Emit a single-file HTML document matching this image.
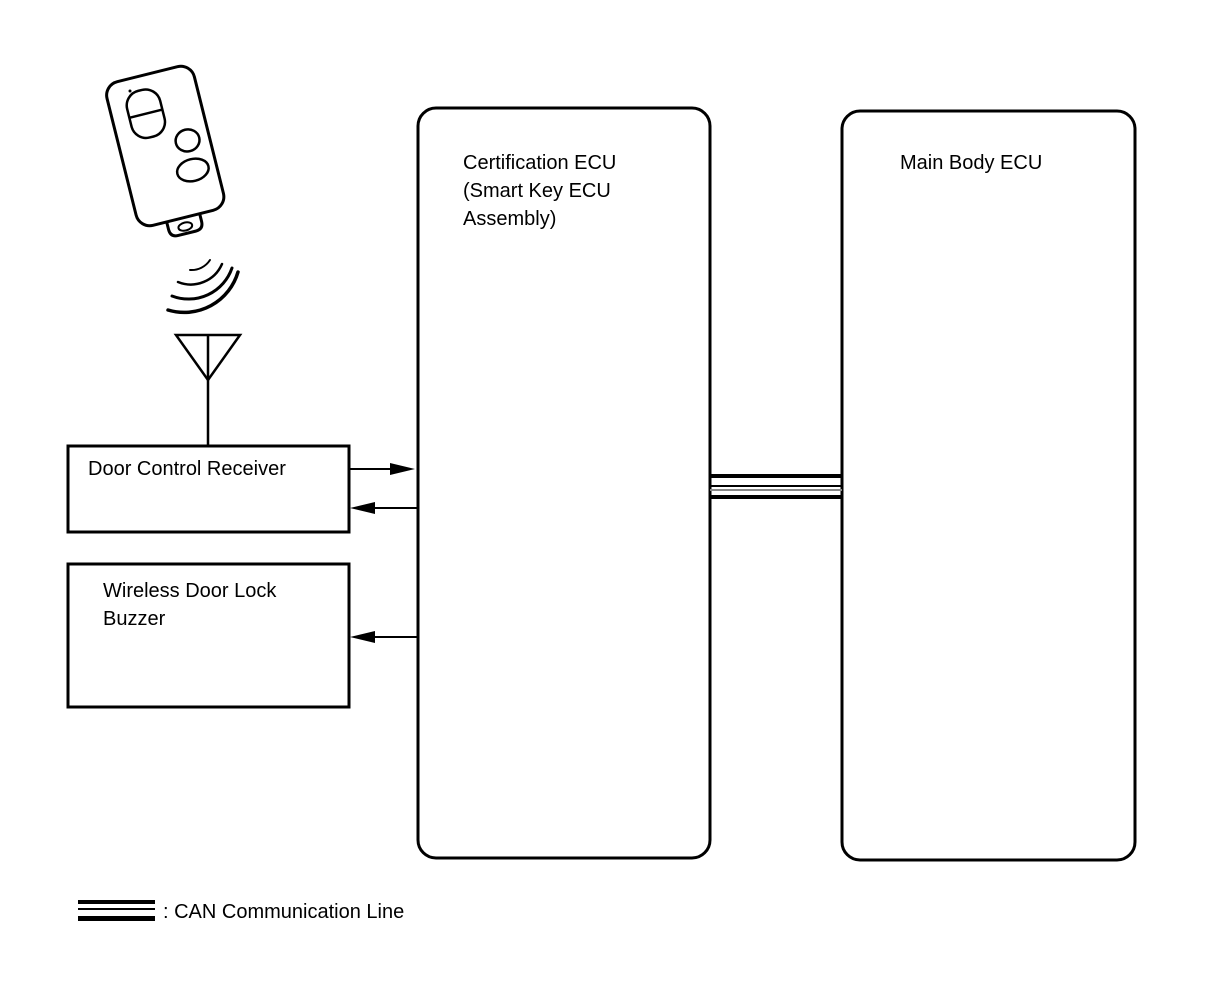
<!DOCTYPE html>
<html><head><meta charset="utf-8"><style>
html,body{margin:0;padding:0;background:#fff;}
svg{display:block;}
text{font-family:"Liberation Sans",sans-serif;font-size:20px;fill:#000;}
</style></head><body>
<svg width="1210" height="986" viewBox="0 0 1210 986" xmlns="http://www.w3.org/2000/svg">
<!-- key fob -->
<g transform="rotate(-14 165 145)" fill="none" stroke="#000" stroke-width="3">
  <rect x="120" y="72" width="90" height="148" rx="14"/>
  <path d="M148 220 v8 q0 8 8 8 h18 q8 0 8 -8 v-8"/>
  <ellipse cx="165" cy="229" rx="7" ry="4" stroke-width="2"/>
  <rect x="137" y="86" width="34" height="48" rx="15" stroke-width="2.5"/>
  <line x1="137" y1="110" x2="171" y2="110" stroke-width="2.5"/>
  <ellipse cx="188" cy="146" rx="12" ry="11" stroke-width="2.5"/>
  <ellipse cx="186" cy="176" rx="16" ry="11" stroke-width="2.5"/>
</g>
<circle cx="130" cy="91" r="1.5" fill="#000"/>
<!-- waves -->
<g fill="none" stroke="#000" stroke-linecap="round">
  <path d="M190 270 A22 22 0 0 0 210 260" stroke-width="2"/>
  <path d="M178 282 A34 34 0 0 0 222 264" stroke-width="2.5"/>
  <path d="M172 296 A46 46 0 0 0 232 268" stroke-width="3"/>
  <path d="M168 310 A56 56 0 0 0 238 272" stroke-width="3.5"/>
</g>
<!-- antenna -->
<g fill="none" stroke="#000" stroke-width="2.5">
  <path d="M176 335 H240 L208 380 Z"/>
  <line x1="208" y1="335" x2="208" y2="446"/>
</g>
<!-- boxes -->
<g fill="none" stroke="#000" stroke-width="3">
  <rect x="418" y="108" width="292" height="750" rx="18"/>
  <rect x="842" y="111" width="293" height="749" rx="18"/>
  <rect x="68" y="446" width="281" height="86"/>
  <rect x="68" y="564" width="281" height="143"/>
</g>
<text x="463" y="169">Certification ECU</text>
<text x="463" y="197">(Smart Key ECU</text>
<text x="463" y="225">Assembly)</text>
<text x="900" y="169">Main Body ECU</text>
<text x="88" y="475">Door Control Receiver</text>
<text x="103" y="597">Wireless Door Lock</text>
<text x="103" y="625">Buzzer</text>
<!-- arrows -->
<g stroke="#000" stroke-width="2" fill="#000">
  <line x1="349" y1="469" x2="400" y2="469"/>
  <path d="M415 469 L390 463 L390 475 Z" stroke="none"/>
  <line x1="365" y1="508" x2="417" y2="508"/>
  <path d="M350 508 L375 502 L375 514 Z" stroke="none"/>
  <line x1="365" y1="637" x2="417" y2="637"/>
  <path d="M350 637 L375 631 L375 643 Z" stroke="none"/>
</g>
<!-- CAN lines -->
<g fill="#000">
  <rect x="710" y="474" width="132" height="4"/>
  <rect x="710" y="485" width="132" height="2"/>
  <rect x="710" y="489" width="132" height="2" fill="#888"/>
  <rect x="710" y="495" width="132" height="4"/>
</g>
<!-- legend -->
<g fill="#000">
  <rect x="78" y="900" width="77" height="4"/>
  <rect x="78" y="908" width="77" height="2"/>
  <rect x="78" y="916" width="77" height="5"/>
</g>
<text x="163" y="918">: CAN Communication Line</text>
</svg>
</body></html>
